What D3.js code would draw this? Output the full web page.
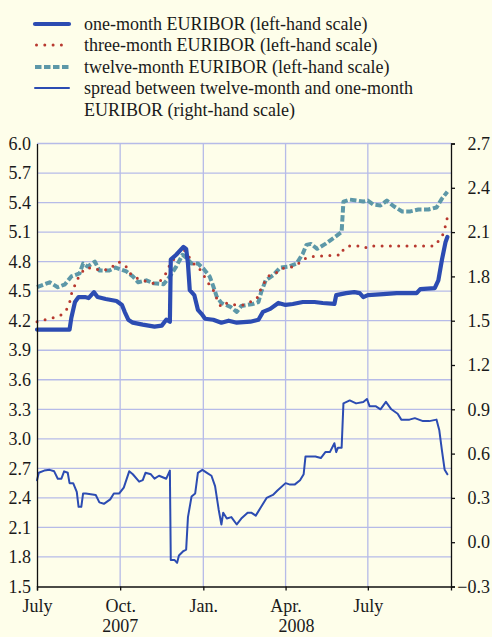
<!DOCTYPE html>
<html>
<head>
<meta charset="utf-8">
<script src="https://cdn.jsdelivr.net/npm/d3@7"></script>
<style>
  html, body { margin: 0; padding: 0; background: #fefeea; }
  svg { display: block; }
  svg text { font-family: "Liberation Serif", "Times New Roman", serif; }
</style>
</head>
<body>
<svg id="chart" width="492" height="637"></svg>
<script>
// one-month EURIBOR, left-hand scale
const oneMonth = [
  ["2007-07-01", 4.11], ["2007-08-06", 4.11], ["2007-08-08", 4.23], ["2007-08-12", 4.39],
  ["2007-08-16", 4.44], ["2007-08-23", 4.44], ["2007-08-27", 4.43], ["2007-09-02", 4.49],
  ["2007-09-06", 4.44], ["2007-09-15", 4.42], ["2007-09-27", 4.40], ["2007-10-03", 4.36],
  ["2007-10-06", 4.29], ["2007-10-10", 4.21], ["2007-10-15", 4.18], ["2007-10-26", 4.16],
  ["2007-11-08", 4.14], ["2007-11-16", 4.15], ["2007-11-21", 4.21], ["2007-11-25", 4.19],
  ["2007-11-26", 4.82], ["2007-12-02", 4.87], ["2007-12-10", 4.95], ["2007-12-13", 4.93],
  ["2007-12-15", 4.78], ["2007-12-17", 4.51], ["2007-12-22", 4.46], ["2007-12-26", 4.31],
  ["2007-12-30", 4.27], ["2008-01-03", 4.22], ["2008-01-12", 4.21], ["2008-01-21", 4.18],
  ["2008-01-29", 4.20], ["2008-02-07", 4.18], ["2008-02-22", 4.19], ["2008-03-02", 4.21],
  ["2008-03-07", 4.29], ["2008-03-15", 4.32], ["2008-03-24", 4.38], ["2008-04-01", 4.36],
  ["2008-04-09", 4.37], ["2008-04-20", 4.39], ["2008-05-03", 4.39], ["2008-05-12", 4.38],
  ["2008-05-25", 4.37], ["2008-05-27", 4.46], ["2008-06-07", 4.48], ["2008-06-16", 4.49],
  ["2008-06-22", 4.48], ["2008-06-26", 4.44], ["2008-07-01", 4.46], ["2008-07-18", 4.47],
  ["2008-08-02", 4.48], ["2008-08-24", 4.48], ["2008-08-28", 4.52], ["2008-09-13", 4.53],
  ["2008-09-17", 4.61], ["2008-09-21", 4.82], ["2008-09-25", 5.00], ["2008-09-27", 5.05]
];

// three-month EURIBOR, left-hand scale
const threeMonth = [
  ["2007-07-01", 4.19], ["2007-07-10", 4.21], ["2007-07-19", 4.23], ["2007-07-28", 4.26],
  ["2007-08-02", 4.30], ["2007-08-06", 4.38], ["2007-08-08", 4.47], ["2007-08-14", 4.61],
  ["2007-08-18", 4.67], ["2007-08-23", 4.73], ["2007-08-31", 4.74], ["2007-09-09", 4.71],
  ["2007-09-17", 4.72], ["2007-09-24", 4.76], ["2007-09-29", 4.80], ["2007-10-07", 4.76],
  ["2007-10-11", 4.69], ["2007-10-17", 4.64], ["2007-10-24", 4.62], ["2007-11-01", 4.59],
  ["2007-11-07", 4.58], ["2007-11-14", 4.60], ["2007-11-20", 4.67], ["2007-11-24", 4.75],
  ["2007-11-29", 4.82], ["2007-12-04", 4.89], ["2007-12-10", 4.93], ["2007-12-16", 4.85],
  ["2007-12-21", 4.78], ["2007-12-26", 4.75], ["2008-01-01", 4.67], ["2008-01-05", 4.60],
  ["2008-01-10", 4.54], ["2008-01-14", 4.48], ["2008-01-17", 4.39], ["2008-01-21", 4.34],
  ["2008-01-27", 4.38], ["2008-02-05", 4.36], ["2008-02-14", 4.36], ["2008-02-22", 4.39],
  ["2008-02-29", 4.42], ["2008-03-05", 4.53], ["2008-03-10", 4.61], ["2008-03-14", 4.66],
  ["2008-03-22", 4.69], ["2008-03-27", 4.73], ["2008-04-06", 4.74], ["2008-04-13", 4.76],
  ["2008-04-20", 4.82], ["2008-04-27", 4.85], ["2008-06-02", 4.87], ["2008-06-04", 4.93],
  ["2008-06-10", 4.96], ["2008-06-19", 4.96], ["2008-06-28", 4.94], ["2008-07-02", 4.96],
  ["2008-09-13", 4.96], ["2008-09-18", 5.02], ["2008-09-23", 5.09], ["2008-09-25", 5.17],
  ["2008-09-27", 5.25]
];

// twelve-month EURIBOR, left-hand scale
const twelveMonth = [
  ["2007-07-01", 4.54], ["2007-07-15", 4.59], ["2007-07-24", 4.54], ["2007-08-01", 4.57],
  ["2007-08-08", 4.65], ["2007-08-17", 4.68], ["2007-08-21", 4.78], ["2007-08-26", 4.75],
  ["2007-09-03", 4.80], ["2007-09-08", 4.71], ["2007-09-19", 4.71], ["2007-09-26", 4.74],
  ["2007-10-08", 4.70], ["2007-10-15", 4.65], ["2007-10-21", 4.59], ["2007-10-30", 4.61],
  ["2007-11-07", 4.58], ["2007-11-18", 4.57], ["2007-11-25", 4.65], ["2007-12-02", 4.75],
  ["2007-12-09", 4.87], ["2007-12-13", 4.84], ["2007-12-19", 4.78], ["2007-12-26", 4.78],
  ["2008-01-01", 4.73], ["2008-01-08", 4.65], ["2008-01-12", 4.55], ["2008-01-16", 4.44],
  ["2008-01-21", 4.38], ["2008-01-31", 4.34], ["2008-02-07", 4.29], ["2008-02-12", 4.35],
  ["2008-02-25", 4.37], ["2008-03-02", 4.39], ["2008-03-05", 4.49], ["2008-03-10", 4.61],
  ["2008-03-18", 4.66], ["2008-03-26", 4.74], ["2008-04-04", 4.75], ["2008-04-13", 4.78],
  ["2008-04-20", 4.88], ["2008-04-24", 4.97], ["2008-04-29", 4.98], ["2008-05-06", 4.93],
  ["2008-05-15", 4.98], ["2008-05-24", 5.04], ["2008-06-02", 5.10], ["2008-06-04", 5.41],
  ["2008-06-11", 5.43], ["2008-06-19", 5.42], ["2008-06-26", 5.41], ["2008-07-01", 5.42],
  ["2008-07-07", 5.38], ["2008-07-15", 5.37], ["2008-07-22", 5.42], ["2008-07-30", 5.36],
  ["2008-08-08", 5.31], ["2008-08-17", 5.31], ["2008-08-26", 5.33], ["2008-09-06", 5.33],
  ["2008-09-15", 5.35], ["2008-09-21", 5.44], ["2008-09-27", 5.51]
];

// spread twelve-month minus one-month, right-hand scale
const spread = [
  ["2007-07-01", 0.42], ["2007-07-03", 0.47], ["2007-07-09", 0.485], ["2007-07-15", 0.49],
  ["2007-07-20", 0.48], ["2007-07-24", 0.43], ["2007-07-28", 0.43], ["2007-07-31", 0.48],
  ["2007-08-04", 0.47], ["2007-08-06", 0.40], ["2007-08-10", 0.40], ["2007-08-14", 0.34],
  ["2007-08-16", 0.24], ["2007-08-19", 0.24], ["2007-08-21", 0.33], ["2007-08-24", 0.33],
  ["2007-09-04", 0.32], ["2007-09-08", 0.27], ["2007-09-13", 0.26], ["2007-09-20", 0.29],
  ["2007-09-24", 0.33], ["2007-09-30", 0.33], ["2007-10-05", 0.37], ["2007-10-11", 0.48],
  ["2007-10-15", 0.46], ["2007-10-22", 0.41], ["2007-10-26", 0.42], ["2007-10-29", 0.47],
  ["2007-11-04", 0.46], ["2007-11-08", 0.43], ["2007-11-13", 0.45], ["2007-11-21", 0.43],
  ["2007-11-25", 0.485], ["2007-11-26", -0.12], ["2007-11-30", -0.12], ["2007-12-03", -0.14],
  ["2007-12-05", -0.09], ["2007-12-10", -0.06], ["2007-12-13", -0.05], ["2007-12-15", 0.17],
  ["2007-12-19", 0.31], ["2007-12-23", 0.33], ["2007-12-26", 0.47], ["2007-12-31", 0.49],
  ["2008-01-05", 0.47], ["2008-01-10", 0.45], ["2008-01-14", 0.38], ["2008-01-18", 0.22],
  ["2008-01-21", 0.12], ["2008-01-23", 0.20], ["2008-01-27", 0.16], ["2008-02-01", 0.17],
  ["2008-02-07", 0.12], ["2008-02-12", 0.16], ["2008-02-19", 0.20], ["2008-02-23", 0.20],
  ["2008-02-28", 0.18], ["2008-03-05", 0.24], ["2008-03-11", 0.30], ["2008-03-18", 0.32],
  ["2008-03-23", 0.35], ["2008-04-01", 0.40], ["2008-04-06", 0.39], ["2008-04-11", 0.39],
  ["2008-04-17", 0.42], ["2008-04-21", 0.46], ["2008-04-23", 0.58], ["2008-05-04", 0.58],
  ["2008-05-10", 0.57], ["2008-05-15", 0.61], ["2008-05-20", 0.61], ["2008-05-25", 0.67],
  ["2008-05-27", 0.61], ["2008-05-29", 0.64], ["2008-06-02", 0.64], ["2008-06-04", 0.94],
  ["2008-06-11", 0.96], ["2008-06-18", 0.94], ["2008-06-26", 0.95], ["2008-06-30", 0.97],
  ["2008-07-03", 0.92], ["2008-07-10", 0.92], ["2008-07-15", 0.90], ["2008-07-21", 0.95],
  ["2008-07-27", 0.90], ["2008-08-03", 0.87], ["2008-08-07", 0.83], ["2008-08-16", 0.83],
  ["2008-08-22", 0.84], ["2008-08-31", 0.82], ["2008-09-07", 0.82], ["2008-09-15", 0.83],
  ["2008-09-18", 0.76], ["2008-09-21", 0.62], ["2008-09-24", 0.49], ["2008-09-27", 0.46]
];

const leftTicks = [1.5, 1.8, 2.1, 2.4, 2.7, 3.0, 3.3, 3.6, 3.9, 4.2, 4.5, 4.8, 5.1, 5.4, 5.7, 6.0];
const rightTicks = [-0.3, 0.0, 0.3, 0.6, 0.9, 1.2, 1.5, 1.8, 2.1, 2.4, 2.7];
const monthTicks = ["2007-07-01", "2007-10-01", "2008-01-01", "2008-04-01", "2008-07-01"];
const monthLabels = ["July", "Oct.", "Jan.", "Apr.", "July"];
const yearLabels = [["2007-10-01", "2007"], ["2008-04-13", "2008"]];

const legendItems = [
  { label: ["one-month EURIBOR (left-hand scale)"], key: "one" },
  { label: ["three-month EURIBOR (left-hand scale)"], key: "three" },
  { label: ["twelve-month EURIBOR (left-hand scale)"], key: "twelve" },
  { label: ["spread between twelve-month and one-month", "EURIBOR (right-hand scale)"], key: "spread" }
];

const styles = {
  one: { stroke: "#2c4cb2", width: 4.2, dash: null, cap: "round" },
  three: { stroke: "#b8392f", width: 3, dash: "0,8.3", cap: "round" },
  twelve: { stroke: "#5d98a8", width: 4, dash: "6.5,2.5", cap: "butt" },
  spread: { stroke: "#2c4cb2", width: 2, dash: null, cap: "round" }
};

const W = 492, H = 637;
const plot = { left: 37, right: 451, top: 143.5, bottom: 586.5 };
const fontFamily = "'Liberation Serif', 'Times New Roman', serif";
const parse = d3.timeParse("%Y-%m-%d");

const svg = d3.select("#chart").attr("font-family", fontFamily);
svg.append("rect").attr("width", W).attr("height", H).attr("fill", "#fefeea");

const x = d3.scaleTime()
  .domain([parse("2007-07-01"), parse("2008-10-01")])
  .range([plot.left, plot.right]);
const yL = d3.scaleLinear().domain([1.5, 6.0]).range([plot.bottom, plot.top]);
const yR = d3.scaleLinear().domain([-0.3, 2.7]).range([plot.bottom, plot.top]);

// grid
const grid = svg.append("g").attr("stroke", "#b6bbe8").attr("stroke-width", 1.3);
grid.selectAll(".hgrid")
  .data(leftTicks.filter(v => v > 1.5))
  .enter().append("line")
  .attr("x1", plot.left).attr("x2", plot.right)
  .attr("y1", d => yL(d)).attr("y2", d => yL(d));
grid.selectAll(".vgrid")
  .data(monthTicks.slice(1))
  .enter().append("line")
  .attr("x1", d => x(parse(d))).attr("x2", d => x(parse(d)))
  .attr("y1", plot.top).attr("y2", plot.bottom);

// series
function drawSeries(data, yScale, st) {
  const line = d3.line()
    .x(d => x(parse(d[0])))
    .y(d => yScale(d[1]));
  svg.append("path")
    .datum(data)
    .attr("d", line)
    .attr("fill", "none")
    .attr("stroke", st.stroke)
    .attr("stroke-width", st.width)
    .attr("stroke-linecap", st.cap)
    .attr("stroke-linejoin", "round")
    .attr("stroke-dasharray", st.dash);
}
drawSeries(spread, yR, styles.spread);
drawSeries(twelveMonth, yL, styles.twelve);
drawSeries(threeMonth, yL, styles.three);
drawSeries(oneMonth, yL, styles.one);

// axes
const fontSize = 18;
const leftAxis = svg.append("g")
  .attr("transform", `translate(${plot.left},0)`)
  .call(d3.axisLeft(yL).tickValues(leftTicks).tickSize(0).tickPadding(6).tickFormat(d3.format(".1f")));
leftAxis.select(".domain").attr("stroke", "#111").attr("stroke-width", 1.3);

// right labels are right-aligned near the page edge
const rightAxis = svg.append("g")
  .attr("transform", `translate(${plot.right},0)`)
  .call(d3.axisRight(yR).tickValues(rightTicks).tickSizeOuter(0).tickSize(4).tickFormat(d3.format(".1f")));
rightAxis.select(".domain").attr("stroke", "#111").attr("stroke-width", 1.3);
rightAxis.selectAll(".tick line").attr("stroke", "#111").attr("stroke-width", 1.3);
rightAxis.selectAll(".tick text").attr("x", 490 - plot.right).attr("text-anchor", "end");

const bottomAxis = svg.append("g")
  .attr("transform", `translate(0,${plot.bottom})`)
  .call(d3.axisBottom(x).tickValues(monthTicks.map(parse)).tickSizeOuter(0).tickSize(4).tickPadding(9)
    .tickFormat((d, i) => monthLabels[i]));
bottomAxis.select(".domain").attr("stroke", "#111").attr("stroke-width", 1.3);
bottomAxis.selectAll(".tick line").attr("stroke", "#111").attr("stroke-width", 1.3);

svg.selectAll("g").attr("font-family", fontFamily);
svg.selectAll(".tick text")
  .attr("font-size", fontSize)
  .attr("fill", "#1a1a1a");

svg.selectAll(".year")
  .data(yearLabels)
  .enter().append("text")
  .attr("x", d => x(parse(d[0])))
  .attr("y", 632)
  .attr("text-anchor", "middle")
  .attr("font-size", fontSize)
  .attr("fill", "#1a1a1a")
  .text(d => d[1]);

// legend
const legend = svg.append("g");
const rowY = [24, 45, 67, 88];
legendItems.forEach((item, i) => {
  const st = styles[item.key];
  legend.append("line")
    .attr("x1", item.key === "three" ? 36.5 : 35)
    .attr("x2", 69)
    .attr("y1", rowY[i]).attr("y2", rowY[i])
    .attr("stroke", st.stroke)
    .attr("stroke-width", st.width)
    .attr("stroke-linecap", st.cap)
    .attr("stroke-dasharray", st.dash);
  item.label.forEach((t, j) => {
    legend.append("text")
      .attr("x", 84)
      .attr("y", rowY[i] + 6 + j * 21.7)
      .attr("font-size", 18)
      .attr("fill", "#1a1a1a")
      .text(t);
  });
});
</script>
</body>
</html>
